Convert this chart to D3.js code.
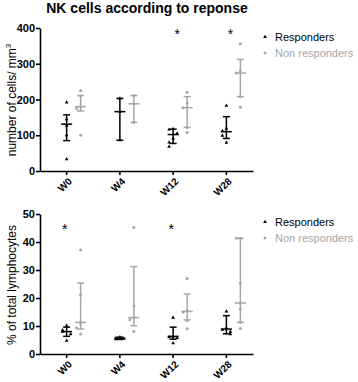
<!DOCTYPE html>
<html>
<head>
<meta charset="utf-8">
<script src="https://cdn.jsdelivr.net/npm/d3@7"></script>
<style>
  body { margin: 0; background: #fff; }
  svg { font-family: "Liberation Sans", Arial, sans-serif; }
</style>
</head>
<body>
<div id="chart"></div>
<script>
// categories
const weeks = ["W0", "W4", "W12", "W28"]

// NK cells / mm3 - individual values
const cellsResp = [[192, 145, 127, 100, 33], [203, 166, 86], [118, 116, 105, 91, 80, 68], [183, 119, 112, 99, 79]]
const cellsNonResp = [[225, 210, 180, 175, 100], [211, 188, 136], [220, 190, 177, 122, 108], [356, 280, 274, 208, 178]]
// median and interquartile range
const cellsRespMedian = [131, 166, 102, 110]
const cellsRespLow = [85, 86, 77, 91]
const cellsRespHigh = [157, 203, 117, 152]
const cellsNonRespMedian = [180, 188, 177, 274]
const cellsNonRespLow = [168, 136, 122, 208]
const cellsNonRespHigh = [211, 211, 208, 312]
const cellsSignif = ["W12", "W28"]

// % of total lymphocytes
const pctResp = [[10.1, 8.5, 8, 7.1, 4.8], [6, 5.7, 5.5, 5.3], [13, 6.3, 6, 5.7, 3.9], [15.2, 9.3, 8.7, 8, 7.1]]
const pctNonResp = [[37.1, 21.1, 11, 9.3, 7.1], [45.2, 17.2, 13, 12.2, 8], [27, 15.5, 15, 12, 9], [41.3, 41.3, 25.3, 18.2, 16.1, 11.3, 9.1]]
const pctRespMedian = [8, 5.6, 6.3, 8.9]
const pctRespLow = [6.3, 5.2, 5.3, 7.2]
const pctRespHigh = [9.6, 6, 9.6, 13.7]
const pctNonRespMedian = [11.3, 13, 15.2, 18.2]
const pctNonRespLow = [8.9, 10.1, 12.2, 11.3]
const pctNonRespHigh = [25.3, 31.2, 21.4, 41.3]
const pctSignif = ["W0", "W12"]

const cellsTicks = [0, 100, 200, 300, 400]
const pctTicks = [0, 10, 20, 30, 40, 50]

const seriesNames = ["Responders", "Non responders"]
const black = "#000"
const grey = "#a6a6a6"

const width = 358, height = 382
const svg = d3.select("#chart").append("svg")
    .attr("width", width)
    .attr("height", height)

svg.append("text")
    .text("NK cells according to reponse")
    .attr("x", 147)
    .attr("y", 13)
    .attr("text-anchor", "middle")
    .style("font-size", "14px")
    .style("font-weight", "bold")

const xScale = d3.scaleBand()
    .domain(weeks).range([40, 253])

function triangle(g, x, y, color) {
    g.append("path")
        .attr("d", d3.symbol(d3.symbolTriangle, 6)())
        .attr("transform", "translate(" + x + "," + y + ")")
        .style("fill", color)
}
function dot(g, x, y, color) {
    g.append("circle")
        .attr("cx", x).attr("cy", y).attr("r", 1.5)
        .style("fill", color)
}

// one panel: axes, scatter with median + IQR
function panel(cfg) {
    const yScale = d3.scaleLinear().domain(cfg.domain).range(cfg.range)
    const g = svg.append("g")

    const yAxis = g.append("g")
        .attr("transform", "translate(40,0)")
        .call(d3.axisLeft(yScale).tickValues(cfg.ticks).tickSize(4).tickSizeOuter(0))
    yAxis.select(".domain").attr("stroke-width", 1.6)
    yAxis.selectAll("line").attr("stroke-width", 1.6)
    yAxis.selectAll("text")
        .style("font-size", "11px").style("font-weight", "bold")
        .attr("x", -5).attr("fill", "#000")

    const xAxis = g.append("g")
        .attr("transform", "translate(0," + cfg.range[0] + ")")
        .call(d3.axisBottom(xScale).tickSize(4).tickSizeOuter(0))
    xAxis.select(".domain").attr("stroke-width", 1.6)
    xAxis.selectAll("line").attr("stroke-width", 1.6)
    xAxis.selectAll("text")
        .attr("x", 0).attr("y", 0).attr("dy", 0)
        .attr("transform", "translate(6,11) rotate(-45)")
        .style("text-anchor", "end")
        .style("font-size", "10px").style("font-weight", "bold")
        .attr("fill", "#000")

    const title = g.append("text")
        .attr("transform", "translate(16," + cfg.titleY + ") rotate(-90)")
        .attr("text-anchor", "middle")
        .style("font-size", "12px")
    title.append("tspan").text(cfg.title)
    if (cfg.sup) title.append("tspan").text(cfg.sup).attr("dy", -5).style("font-size", "8px")

    const groups = [
        { pts: cfg.resp, med: cfg.respMed, lo: cfg.respLo, hi: cfg.respHi, off: 0, color: black, mark: triangle },
        { pts: cfg.non, med: cfg.nonMed, lo: cfg.nonLo, hi: cfg.nonHi, off: 14, color: grey, mark: dot }
    ]
    groups.forEach(s => {
        weeks.forEach((w, i) => {
            const cx = xScale(w) + xScale.bandwidth() / 2 + s.off
            // points, pushed sideways when they overlap
            const placed = []
            s.pts[i].forEach(v => {
                const y = yScale(v)
                const near = placed.filter(p => Math.abs(p - y) < 5).length
                const dx = near === 0 ? 0 : (near % 2 === 1 ? -4 : 4)
                placed.push(y)
                s.mark(g, cx + dx, y, s.color)
            })
            g.append("line")
                .attr("x1", cx).attr("x2", cx)
                .attr("y1", yScale(s.lo[i])).attr("y2", yScale(s.hi[i]))
                .attr("stroke", s.color).attr("stroke-width", 1.5)
            ;[s.lo[i], s.hi[i]].forEach(v => {
                g.append("line")
                    .attr("x1", cx - 3.5).attr("x2", cx + 3.5)
                    .attr("y1", yScale(v)).attr("y2", yScale(v))
                    .attr("stroke", s.color).attr("stroke-width", 1.5)
            })
            g.append("line")
                .attr("x1", cx - 5.5).attr("x2", cx + 5.5)
                .attr("y1", yScale(s.med[i])).attr("y2", yScale(s.med[i]))
                .attr("stroke", s.color).attr("stroke-width", 1.5)
        })
    })

    cfg.signif.forEach(w => {
        g.append("text")
            .text("*")
            .attr("x", xScale(w) + xScale.bandwidth() / 2 + cfg.starOff)
            .attr("y", cfg.starY)
            .attr("text-anchor", "middle")
            .style("font-size", "14px")
    })

    // legend
    seriesNames.forEach((name, i) => {
        const ly = cfg.legendY + i * 16
        if (i === 0) triangle(g, 265, ly, black)
        else dot(g, 265, ly, grey)
        g.append("text")
            .text(name)
            .attr("x", 275).attr("y", ly + 4)
            .style("font-size", "11px")
            .attr("fill", i === 0 ? black : grey)
    })
}

panel({
    domain: [0, 400], range: [171, 28], ticks: cellsTicks,
    title: "number of cells/ mm", sup: "3", titleY: 100,
    resp: cellsResp, respMed: cellsRespMedian, respLo: cellsRespLow, respHi: cellsRespHigh,
    non: cellsNonResp, nonMed: cellsNonRespMedian, nonLo: cellsNonRespLow, nonHi: cellsNonRespHigh,
    signif: cellsSignif, starY: 39, starOff: 4, legendY: 37
})
panel({
    domain: [0, 50], range: [354, 214], ticks: pctTicks,
    title: "% of total lymphocytes", sup: null, titleY: 285,
    resp: pctResp, respMed: pctRespMedian, respLo: pctRespLow, respHi: pctRespHigh,
    non: pctNonResp, nonMed: pctNonRespMedian, nonLo: pctNonRespLow, nonHi: pctNonRespHigh,
    signif: pctSignif, starY: 234, starOff: -2, legendY: 222
})
</script>
</body>
</html>
